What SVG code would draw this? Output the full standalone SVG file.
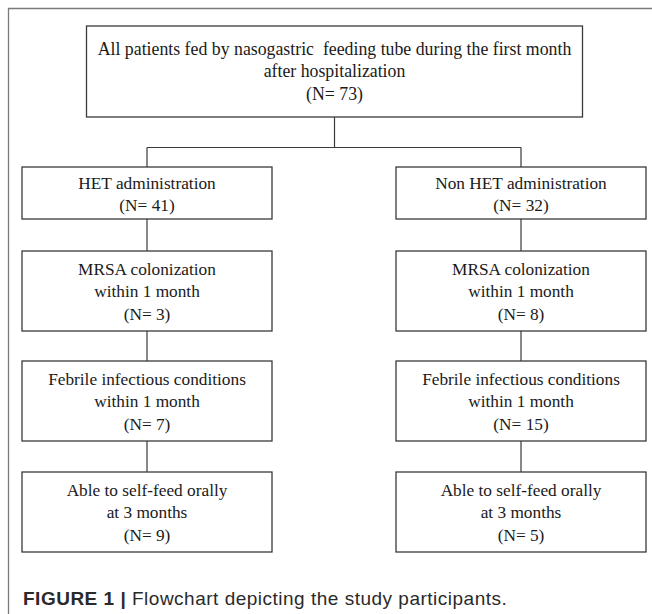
<svg xmlns="http://www.w3.org/2000/svg" width="652" height="614" viewBox="0 0 652 614">
<style>
.box{fill:#fff;stroke:#3a3a3a;stroke-width:1.3}
.t{font-family:"Liberation Serif","Times New Roman",serif;font-size:17.3px;fill:#1a1a1a;text-anchor:middle}
.c{fill:none;stroke:#3a3a3a;stroke-width:1.2}
.frame{fill:none;stroke:#7a7a7a;stroke-width:1.3}
.cap{font-family:"Liberation Sans",Arial,sans-serif;font-size:19px;letter-spacing:0.5px;fill:#2a2a2a}
</style>
<rect width="652" height="614" fill="#fff"/>
<path class="frame" d="M8.5 614 V8.5 H652"/>
<g id="connectors">
<path class="c" d="M334.5 117 V147.5 M147 147.5 H521 M147 147.5 V167 M521 147.5 V167"/>
<path class="c" d="M147 219 V251 M147 331 V361 M147 441 V472"/>
<path class="c" d="M521 219 V251 M521 331 V361 M521 441 V472"/>
</g>
<g id="n0">
<rect class="box" x="86.5" y="26" width="496" height="91"/>
<text class="t" x="334.5" y="54.5" xml:space="preserve" style="font-size:17.8px">All patients fed by nasogastric  feeding tube during the first month</text>
<text class="t" x="334.5" y="77" style="font-size:17.8px">after hospitalization</text>
<text class="t" x="334.5" y="99.5" style="font-size:17.8px">(N= 73)</text>
</g>
<g id="n1">
<rect class="box" x="22" y="167" width="250" height="52"/>
<text class="t" x="147" y="188.5">HET administration</text>
<text class="t" x="147" y="211">(N= 41)</text>
</g>
<g id="n2">
<rect class="box" x="396" y="167" width="250" height="52"/>
<text class="t" x="521" y="188.5">Non HET administration</text>
<text class="t" x="521" y="211">(N= 32)</text>
</g>
<g id="n3">
<rect class="box" x="22" y="251" width="250" height="80"/>
<text class="t" x="147" y="274.5">MRSA colonization</text>
<text class="t" x="147" y="297">within 1 month</text>
<text class="t" x="147" y="319.5">(N= 3)</text>
</g>
<g id="n4">
<rect class="box" x="396" y="251" width="250" height="80"/>
<text class="t" x="521" y="274.5">MRSA colonization</text>
<text class="t" x="521" y="297">within 1 month</text>
<text class="t" x="521" y="319.5">(N= 8)</text>
</g>
<g id="n5">
<rect class="box" x="22" y="361" width="250" height="80"/>
<text class="t" x="147" y="384.5">Febrile infectious conditions</text>
<text class="t" x="147" y="407">within 1 month</text>
<text class="t" x="147" y="429.5">(N= 7)</text>
</g>
<g id="n6">
<rect class="box" x="396" y="361" width="250" height="80"/>
<text class="t" x="521" y="384.5">Febrile infectious conditions</text>
<text class="t" x="521" y="407">within 1 month</text>
<text class="t" x="521" y="429.5">(N= 15)</text>
</g>
<g id="n7">
<rect class="box" x="22" y="472" width="250" height="80"/>
<text class="t" x="147" y="495.5">Able to self-feed orally</text>
<text class="t" x="147" y="518">at 3 months</text>
<text class="t" x="147" y="540.5">(N= 9)</text>
</g>
<g id="n8">
<rect class="box" x="396" y="472" width="250" height="80"/>
<text class="t" x="521" y="495.5">Able to self-feed orally</text>
<text class="t" x="521" y="518">at 3 months</text>
<text class="t" x="521" y="540.5">(N= 5)</text>
</g>
<text class="cap" x="23" y="605"><tspan font-weight="bold">FIGURE 1 | </tspan>Flowchart depicting the study participants.</text>
</svg>
